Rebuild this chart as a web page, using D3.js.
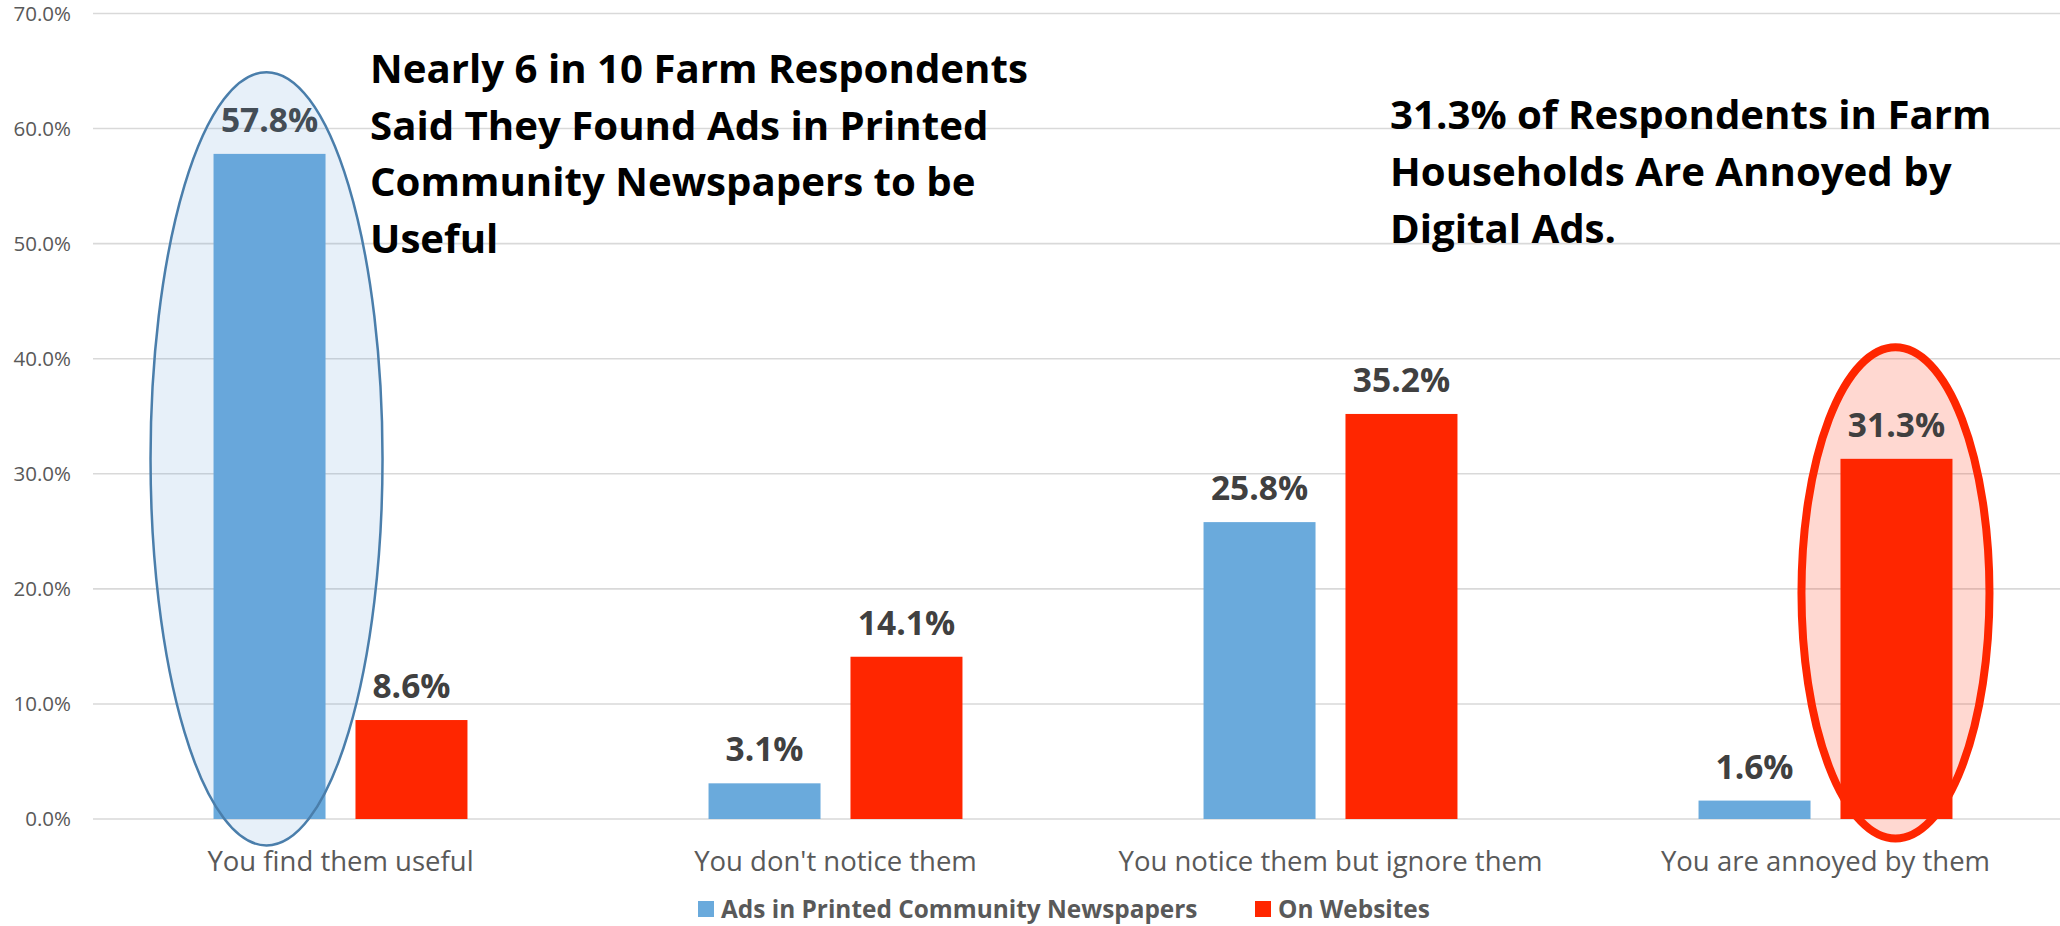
<!DOCTYPE html>
<html>
<head>
<meta charset="utf-8">
<script src="https://cdn.jsdelivr.net/npm/d3@7"></script>
<style>
  html, body { margin: 0; padding: 0; background: #fff; }
  svg { display: block; }
</style>
</head>
<body>
<svg id="chart" width="2060" height="926"></svg>
<script>
// ---- data ----
const categories = ["You find them useful", "You don't notice them", "You notice them but ignore them", "You are annoyed by them"];
const seriesNames = ["Ads in Printed Community Newspapers", "On Websites"];
const printedValues = [57.8, 3.1, 25.8, 1.6];
const websiteValues = [8.6, 14.1, 35.2, 31.3];
const yTicks = [0, 10, 20, 30, 40, 50, 60, 70];
const seriesColors = ["#6aaadc", "#ff2600"];
const noteLeft = ["Nearly 6 in 10 Farm Respondents", "Said They Found Ads in Printed", "Community Newspapers to be", "Useful"];
const noteRight = ["31.3% of Respondents in Farm", "Households Are Annoyed by", "Digital Ads."];
// highlight ellipses: [category index, series index, top value, bottom value]
const highlightBlue = [0, 0, 64.9, -2.3];
const highlightRed = [3, 1, 41.0, -1.7];

const svg = d3.select("#chart");

const x0 = d3.scaleBand().domain(categories).range([93, 2073]).paddingInner(0.487).paddingOuter(0.2435);
const x1 = d3.scaleBand().domain(seriesNames).range([0, x0.bandwidth()]).paddingInner(0.211);
const y = d3.scaleLinear().domain([0, 70]).range([819, 13.5]);

const rows = categories.map((c, i) => ({ cat: c, vals: [printedValues[i], websiteValues[i]] }));

// gridlines
svg.append("g").selectAll("line").data(yTicks).join("line")
  .attr("x1", 93).attr("x2", 2073)
  .attr("y1", d => y(d)).attr("y2", d => y(d))
  .attr("stroke", "#d9d9d9").attr("stroke-width", 1.6);

// y axis labels
const yAxis = d3.axisLeft(y).tickValues(yTicks).tickFormat(d => d3.format(".1f")(d) + "%").tickSize(0).tickPadding(0);
const yg = svg.append("g").attr("transform", "translate(71,0)").call(yAxis);
yg.select(".domain").remove();
yg.selectAll("text").attr("font-family", "'Open Sans', sans-serif").attr("font-size", 20.5).attr("fill", "#595959");

function ellipseGeom(h) {
  const [ci, si, top, bot] = h;
  const cx = x0(categories[ci]) + x1(seriesNames[si]) + x1.bandwidth() / 2;
  const cy = (y(top) + y(bot)) / 2;
  const ry = (y(bot) - y(top)) / 2;
  return { cx, cy, ry };
}
// red highlight ellipse (behind bars)
const rg = ellipseGeom(highlightRed);
svg.append("ellipse")
  .attr("cx", rg.cx - 1).attr("cy", rg.cy).attr("rx", 94).attr("ry", rg.ry)
  .attr("fill", "rgba(255,38,0,0.18)").attr("stroke", "#ff2600").attr("stroke-width", 8);

// bars
const groups = svg.append("g").selectAll("g").data(rows).join("g")
  .attr("transform", d => `translate(${x0(d.cat)},0)`);
groups.selectAll("rect").data(d => d.vals.map((v, i) => ({ v, s: seriesNames[i], i }))).join("rect")
  .attr("x", d => x1(d.s)).attr("width", x1.bandwidth())
  .attr("y", d => y(d.v)).attr("height", d => y(0) - y(d.v))
  .attr("fill", d => seriesColors[d.i]);
groups.selectAll("text").data(d => d.vals.map((v, i) => ({ v, s: seriesNames[i], i }))).join("text")
  .attr("x", d => x1(d.s) + x1.bandwidth() / 2)
  .attr("y", d => y(d.v) - 22)
  .attr("text-anchor", "middle")
  .attr("font-family", "'Open Sans', sans-serif").attr("font-weight", 700).attr("font-size", 33.5)
  .attr("fill", "#404040")
  .text(d => d3.format(".1f")(d.v) + "%");

// blue highlight ellipse (over bar)
const bg = ellipseGeom(highlightBlue);
svg.append("ellipse")
  .attr("cx", bg.cx - 3).attr("cy", bg.cy).attr("rx", 116).attr("ry", bg.ry)
  .attr("fill", "rgba(91,155,213,0.15)").attr("stroke", "#4a7eab").attr("stroke-width", 2.5);

// x axis labels
const xAxis = d3.axisBottom(x0).tickSize(0).tickPadding(0);
const xg = svg.append("g").attr("transform", "translate(0,851)").call(xAxis);
xg.select(".domain").remove();
xg.selectAll("text").attr("font-family", "'Open Sans', sans-serif").attr("font-size", 27.5).attr("fill", "#595959").attr("dy", "0.71em");

// legend
const lg = svg.append("g");
const legendX = [698, 1255];
seriesNames.forEach((s, i) => {
  lg.append("rect").attr("x", legendX[i]).attr("y", 901).attr("width", 16).attr("height", 16).attr("fill", seriesColors[i]);
  lg.append("text").attr("x", legendX[i] + 23).attr("y", 918)
    .attr("font-family", "'Open Sans', sans-serif").attr("font-weight", 700).attr("font-size", 24.4)
    .attr("fill", "#595959").text(s);
});

// annotations
const t1 = svg.append("text").attr("font-family", "'Open Sans', sans-serif").attr("font-weight", 700).attr("font-size", 40.2).attr("fill", "#000");
noteLeft.forEach((l, i) => t1.append("tspan").attr("x", 370).attr("y", 83 + i * 56.5).text(l));
const t2 = svg.append("text").attr("font-family", "'Open Sans', sans-serif").attr("font-weight", 700).attr("font-size", 40.2).attr("fill", "#000");
noteRight.forEach((l, i) => t2.append("tspan").attr("x", 1390).attr("y", 129 + i * 57).text(l));
</script>
</body>
</html>
